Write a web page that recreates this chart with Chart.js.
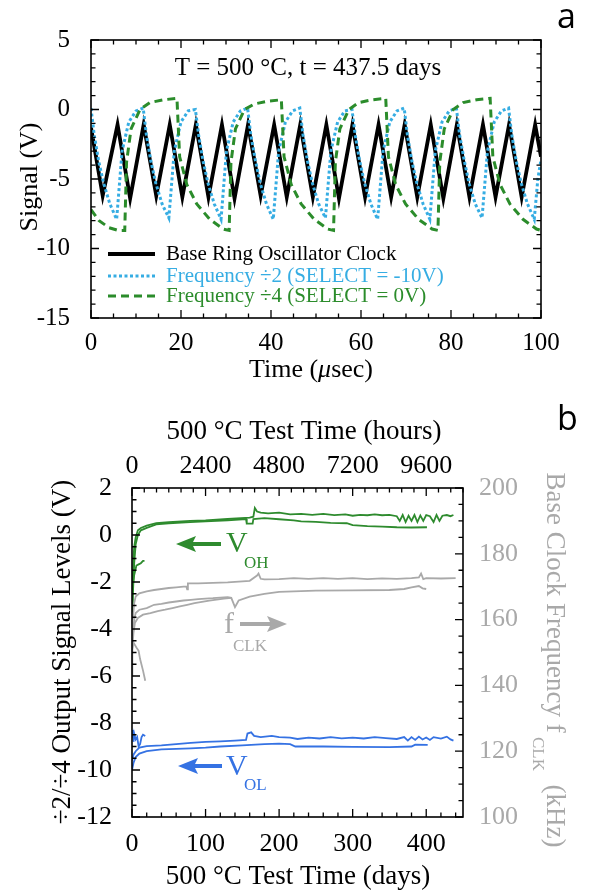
<!DOCTYPE html>
<html>
<head>
<meta charset="utf-8">
<script src="https://cdn.jsdelivr.net/npm/chart.js@4.4.1/dist/chart.umd.min.js"></script>
<style>
  html, body { margin: 0; padding: 0; background: #fff; }
  #boxA { position: absolute; left: 0; top: 0; }
  #boxB { position: absolute; left: 0; top: 390px; }
</style>
</head>
<body>
<canvas id="boxA" width="590" height="390"></canvas>
<canvas id="boxB" width="590" height="503"></canvas>
<script>
// ---------- panel a: waveforms (time in usec, signal in V) ----------
const timeTicks = [0, 20, 40, 60, 80, 100]
const signalTicks = [-15, -10, -5, 0, 5]

const clockT = [0, 2.6, 5.9, 8.7, 11.7, 14.5, 17.5, 20.3, 23.3, 26.1, 29.1, 31.9, 34.9, 37.7, 40.7, 43.5,
  46.5, 49.3, 52.3, 55.1, 58.1, 60.9, 63.9, 66.7, 69.7, 72.5, 75.5, 78.3, 81.3, 84.1, 87.1, 89.9,
  92.9, 95.7, 98.7, 100]
const clockV = [-1.3, -6.2, -1.1, -6.4, -1.1, -6.2, -1.1, -6.3, -1.1, -6.3, -1.1, -6.4, -1.1, -6.2, -1.1, -6.3,
  -1.1, -6.3, -1.1, -6.4, -1.1, -6.3, -1.1, -6.3, -1.1, -6.3, -1.1, -6.4, -1.1, -6.3, -1.1, -6.3,
  -1.1, -6.3, -1.1, -3.4]

const div2T = [0, 0.7, 1.7, 2.8, 4.2, 5.7, 6.9, 8.4, 10.0,
  11.6, 12.3, 13.3, 14.4, 15.8, 17.3, 18.5, 20.0, 21.6,
  23.2, 23.9, 24.9, 26.0, 27.4, 28.9, 30.1, 31.6, 33.2,
  34.8, 35.5, 36.5, 37.6, 39.0, 40.5, 41.7, 43.2, 44.8,
  46.4, 47.1, 48.1, 49.2, 50.6, 52.1, 53.3, 54.8, 56.4,
  58.0, 58.7, 59.7, 60.8, 62.2, 63.7, 64.9, 66.4, 68.0,
  69.6, 70.3, 71.3, 72.4, 73.8, 75.3, 76.5, 78.0, 79.6,
  81.2, 81.9, 82.9, 84.0, 85.4, 86.9, 88.1, 89.6, 91.2,
  92.8, 93.5, 94.5, 95.6, 97.0, 98.5, 99.3, 100]
const div2V = [0.1, -1.8, -3.7, -5.3, -6.8, -7.9, -3.0, -0.9, -0.1,
  0.1, -1.8, -3.7, -5.3, -6.8, -7.8, -3.0, -0.9, -0.1,
  0.0, -1.8, -3.7, -5.3, -6.8, -7.9, -3.0, -0.9, -0.1,
  0.1, -1.8, -3.6, -5.3, -6.8, -7.9, -3.0, -0.9, -0.1,
  0.1, -1.8, -3.7, -5.3, -6.8, -7.8, -3.0, -0.9, -0.1,
  0.0, -1.8, -3.7, -5.3, -6.8, -7.9, -3.0, -0.9, -0.1,
  0.1, -1.8, -3.7, -5.3, -6.8, -7.9, -3.0, -0.9, -0.1,
  0.1, -1.8, -3.6, -5.3, -6.8, -7.8, -3.0, -0.9, -0.1,
  0.1, -1.8, -3.7, -5.3, -6.8, -7.9, -5.0, -3.6]

const div4T = [0, 1.8, 4.0, 6.0, 7.5,
  7.9, 8.9, 10.9, 13.1, 16.1, 19.1, 19.7, 21.3, 23.5, 26.4, 29.4, 30.7,
  31.1, 32.1, 34.1, 36.3, 39.3, 42.3, 42.9, 44.5, 46.7, 49.6, 52.6, 53.9,
  54.3, 55.3, 57.3, 59.5, 62.5, 65.5, 66.1, 67.7, 69.9, 72.8, 75.8, 77.1,
  77.5, 78.5, 80.5, 82.7, 85.7, 88.7, 89.3, 90.9, 93.1, 96.0, 99.0, 100]
const div4V = [-7.2, -8.0, -8.5, -8.7, -8.7,
  -3.8, -1.4, 0.0, 0.5, 0.7, 0.8, -3.4, -5.4, -6.8, -7.9, -8.6, -8.7,
  -3.8, -1.4, 0.0, 0.4, 0.6, 0.7, -3.4, -5.4, -6.8, -7.9, -8.6, -8.7,
  -3.8, -1.4, 0.0, 0.5, 0.7, 0.8, -3.4, -5.4, -6.8, -7.9, -8.6, -8.7,
  -3.8, -1.4, 0.0, 0.5, 0.7, 0.8, -3.4, -5.4, -6.8, -7.9, -8.6, -8.7]

// ---------- panel b: long-term levels (days, V / kHz) ----------
const dayTicks = [0, 100, 200, 300, 400]
const hourTicks = [0, 2400, 4800, 7200, 9600]
const levelTicks = [-12, -10, -8, -6, -4, -2, 0, 2]
const freqTicks = [100, 120, 140, 160, 180, 200]

const ohUpperDay = [0, 1, 2, 3, 5, 8, 12, 20, 33, 50, 79, 100, 130, 160, 165, 167, 170, 175, 185, 200, 215, 230,
  245, 260, 275, 290, 300, 310, 320, 330, 340, 350, 360, 364, 368, 372, 376, 380, 384, 388, 392, 396, 400,
  405, 410, 414, 418, 422, 428, 433, 437]
const ohUpperV = [-3.0, -2.0, -1.0, -0.5, -0.1, 0.2, 0.3, 0.4, 0.5, 0.55, 0.6, 0.62, 0.68, 0.74, 0.78, 1.15, 1.0, 0.95,
  0.92, 0.95, 0.88, 0.9, 0.86, 0.9, 0.85, 0.88, 0.82, 0.86, 0.84, 0.88, 0.84, 0.86, 0.8, 0.6, 0.85, 0.55, 0.82,
  0.6, 0.85, 0.55, 0.83, 0.6, 0.85, 0.8, 0.55, 0.85, 0.6, 0.82, 0.85, 0.8, 0.85]
const ohLowerDay = [0, 1.5, 3, 5, 8, 12, 20, 33, 50, 79, 100, 130, 155, 156, 164, 165, 180, 200, 220, 230, 250,
  270, 292, 300, 320, 340, 360, 380, 401]
const ohLowerV = [-3.3, -2.3, -1.2, -0.4, 0.0, 0.2, 0.3, 0.45, 0.5, 0.55, 0.58, 0.62, 0.68, 0.48, 0.48, 0.68, 0.72,
  0.67, 0.62, 0.58, 0.56, 0.52, 0.5, 0.42, 0.38, 0.36, 0.33, 0.32, 0.33]
const ohShortDay = [1, 3, 6, 9, 12, 15, 17]
const ohShortV = [-2.2, -1.7, -1.3, -1.25, -1.2, -1.1, -1.1]

const olUpperDay = [0, 2, 5, 10, 20, 40, 60, 80, 100, 120, 140, 155, 157, 162, 166, 175, 190, 200, 215, 225, 240,
  255, 270, 285, 300, 315, 330, 345, 360, 370, 375, 380, 385, 390, 395, 400, 405, 410, 420, 428, 433, 437]
const olUpperV = [-9.6, -9.35, -9.2, -9.05, -8.98, -8.95, -8.9, -8.85, -8.8, -8.78, -8.75, -8.72, -8.45, -8.4, -8.55,
  -8.6, -8.55, -8.6, -8.62, -8.68, -8.62, -8.66, -8.6, -8.65, -8.62, -8.66, -8.6, -8.64, -8.68, -8.6, -8.75,
  -8.6, -8.72, -8.58, -8.7, -8.62, -8.72, -8.6, -8.66, -8.58, -8.7, -8.75]
const olLowerDay = [0, 2, 5, 10, 20, 40, 60, 80, 100, 120, 150, 180, 200, 215, 222, 260, 300, 350, 380, 385, 402]
const olLowerV = [-10.0, -9.7, -9.45, -9.3, -9.2, -9.12, -9.1, -9.08, -9.05, -9.0, -8.95, -8.9, -8.88, -8.9, -9.0,
  -9.0, -9.02, -9.03, -9.0, -8.92, -8.93]
const olShortDay = [0, 1, 2, 3, 5, 7, 9, 11, 13, 15, 18]
const olShortV = [-8.6, -8.3, -8.8, -8.45, -8.7, -8.6, -9.0, -8.9, -8.6, -8.5, -8.55]

const clkUpperDay = [1, 3, 5, 10, 20, 30, 40, 50, 60, 70, 74, 75, 76, 90, 100, 130, 160, 170, 172, 175, 180,
  200, 220, 240, 260, 280, 300, 320, 340, 360, 380, 390, 393, 396, 400, 420, 440]
const clkUpperKHz = [160, 165, 167, 168, 168.6, 169, 169.3, 169.6, 169.8, 170, 170, 169.2, 171, 171, 171.1,
  171.3, 171.8, 173.4, 174, 172.4, 172.2, 172.3, 172.6, 172.4, 172.6, 172.4, 172.6, 172.3, 172.5, 172.4,
  172.6, 172.8, 174, 172.3, 172.6, 172.5, 172.6]
const clkMidDay = [1, 3, 5, 10, 20, 30, 40, 50, 60, 70, 80, 90, 100, 110, 120, 130, 135, 140, 145, 160, 180, 200,
  250, 300, 350, 370, 380, 390, 395, 400]
const clkMidKHz = [155, 160, 162, 163, 163.5, 164.5, 164.8, 165.2, 165.5, 165.8, 166, 166.2, 166.4, 166.5, 166.7,
  166.8, 166.6, 163.8, 165.8, 167, 167.8, 168.4, 168.8, 168.9, 169, 169.3, 169.8, 170.2, 169.5, 169.3]
const clkLowDay = [0, 2, 4, 8, 15, 25, 35, 45, 55, 65, 75, 85, 95, 105, 115, 125, 135]
const clkLowKHz = [150, 156, 159, 160.5, 161.5, 162, 162.6, 163, 163.5, 164, 164.5, 165, 165.4, 165.8, 166.1, 166.4,
  166.6]
const clkDropDay = [0, 0.5, 2, 6, 9, 11, 15, 18]
const clkDropKHz = [143, 151, 153, 151.5, 150.5, 148, 144.5, 141.4]

// ---------- helpers ----------
const SERIF = '"Liberation Serif", "Times New Roman", serif'
const pts = (xs, ys) => xs.map((x, i) => ({ x, y: ys[i] }))
const fixedTicks = (list) => (s) => { s.ticks = list.map((v) => ({ value: v })) }

function marks(ctx, scale, a, side, from, to, step, major) {
  ctx.beginPath()
  const n = Math.round((to - from) / step)
  for (let i = 0; i <= n; i++) {
    const v = from + i * step
    const p = scale.getPixelForValue(v)
    const r = v / major
    const len = Math.abs(r - Math.round(r)) < 1e-6 ? 8 : 4.5
    if (side === "bottom") { ctx.moveTo(p, a.bottom); ctx.lineTo(p, a.bottom - len) }
    if (side === "top") { ctx.moveTo(p, a.top); ctx.lineTo(p, a.top + len) }
    if (side === "left") { ctx.moveTo(a.left, p); ctx.lineTo(a.left + len, p) }
    if (side === "right") { ctx.moveTo(a.right, p); ctx.lineTo(a.right - len, p) }
  }
  ctx.stroke()
}

function text(ctx, parts, x, y, align, rot) {
  ctx.save()
  ctx.translate(x, y)
  ctx.rotate(rot || 0)
  ctx.textBaseline = "middle"
  ctx.textAlign = "left"
  let w = 0
  parts.forEach((p) => { ctx.font = p.font; w += ctx.measureText(p.text).width })
  let cx = align === "center" ? -w / 2 : 0
  parts.forEach((p) => {
    ctx.font = p.font
    ctx.fillStyle = p.color
    ctx.fillText(p.text, cx, p.dy || 0)
    cx += ctx.measureText(p.text).width
  })
  ctx.restore()
}

function arrow(ctx, tail, head, y, color) {
  const dir = head > tail ? 1 : -1
  ctx.save()
  ctx.fillStyle = color
  ctx.strokeStyle = color
  ctx.lineWidth = 4
  ctx.beginPath()
  ctx.moveTo(tail, y)
  ctx.lineTo(head - dir * 14, y)
  ctx.stroke()
  ctx.beginPath()
  ctx.moveTo(head, y)
  ctx.lineTo(head - dir * 20, y - 8)
  ctx.lineTo(head - dir * 16, y)
  ctx.lineTo(head - dir * 20, y + 8)
  ctx.closePath()
  ctx.fill()
  ctx.restore()
}

const tickFont = { family: SERIF, size: 25, lineHeight: 1.2 }

// ---------- chart a ----------
const decorA = {
  id: "decorA",
  afterDraw(chart) {
    const { ctx, chartArea: a, scales } = chart
    ctx.save()
    ctx.strokeStyle = "#000"
    ctx.lineWidth = 1.6
    ctx.strokeRect(a.left, a.top, a.right - a.left, a.bottom - a.top)
    ctx.lineWidth = 1.3
    marks(ctx, scales.x, a, "bottom", 0, 100, 5, 20)
    marks(ctx, scales.x, a, "top", 0, 100, 5, 20)
    marks(ctx, scales.y, a, "left", -15, 5, 1, 5)
    marks(ctx, scales.y, a, "right", -15, 5, 1, 5)

    // legend inside the plot
    const rows = [
      { label: "Base Ring Oscillator Clock", color: "#000", dash: [], w: 4, y: 254 },
      { label: "Frequency \u00f72 (SELECT = -10V)", color: "#36ade3", dash: [3, 2.5], w: 3, y: 276 },
      { label: "Frequency \u00f74 (SELECT = 0V)", color: "#2b8c2b", dash: [8, 5], w: 3, y: 296 },
    ]
    rows.forEach((r) => {
      ctx.beginPath()
      ctx.strokeStyle = r.color
      ctx.lineWidth = r.w
      ctx.setLineDash(r.dash)
      ctx.moveTo(108, r.y)
      ctx.lineTo(155, r.y)
      ctx.stroke()
      ctx.setLineDash([])
      text(ctx, [{ text: r.label, font: "21px " + SERIF, color: r.color }], 166, r.y, "left")
    })
    ctx.restore()

    text(ctx, [{ text: "T = 500 \u00b0C, t = 437.5 days", font: "25px " + SERIF, color: "#000" }], 308, 68, "center")
    text(ctx, [{ text: "Signal (V)", font: "26px " + SERIF, color: "#000" }], 30, 177, "center", -Math.PI / 2)
    text(ctx, [
      { text: "Time (", font: "26px " + SERIF, color: "#000" },
      { text: "\u03bc", font: "italic 26px " + SERIF, color: "#000" },
      { text: "sec)", font: "26px " + SERIF, color: "#000" },
    ], 311, 370, "center")
    text(ctx, [{ text: "a", font: "34px 'Open Sans', sans-serif", color: "#000" }], 557, 18, "left")
  },
}

new Chart(document.getElementById("boxA"), {
  type: "line",
  data: {
    datasets: [
      { data: pts(div4T, div4V), borderColor: "#2b8c2b", borderWidth: 3, borderDash: [8, 5], pointRadius: 0 },
      { data: pts(div2T, div2V), borderColor: "#36ade3", borderWidth: 3, borderDash: [3, 2.5], pointRadius: 0 },
      { data: pts(clockT, clockV), borderColor: "#000", borderWidth: 3.8, pointRadius: 0 },
    ],
  },
  options: {
    responsive: false,
    animation: false,
    devicePixelRatio: 1,
    layout: { padding: { top: 40, right: 49, left: 0, bottom: 0 } },
    plugins: { legend: { display: false }, tooltip: { enabled: false } },
    scales: {
      x: {
        type: "linear", min: 0, max: 100,
        afterFit: (s) => { s.height = 72 },
        afterBuildTicks: fixedTicks(timeTicks),
        grid: { display: false }, border: { display: false },
        ticks: { padding: 2, color: "#000", font: tickFont, maxRotation: 0, autoSkip: false, callback: (v) => String(v) },
      },
      y: {
        type: "linear", min: -15, max: 5,
        afterFit: (s) => { s.width = 91 },
        afterBuildTicks: fixedTicks(signalTicks),
        grid: { display: false }, border: { display: false },
        ticks: { padding: 13, color: "#000", font: tickFont, autoSkip: false, callback: (v) => String(v) },
      },
    },
  },
  plugins: [decorA],
})

// ---------- chart b ----------
const GREEN = "#2e8b2e"
const BLUE = "#3572e3"
const GRAY = "#a9a9a9"

const decorB = {
  id: "decorB",
  afterDraw(chart) {
    const { ctx, chartArea: a, scales } = chart
    ctx.save()
    ctx.strokeStyle = "#000"
    ctx.lineWidth = 1.6
    ctx.strokeRect(a.left, a.top, a.right - a.left, a.bottom - a.top)
    ctx.lineWidth = 1.3
    marks(ctx, scales.x, a, "bottom", 0, 440, 20, 100)
    marks(ctx, scales.xh, a, "top", 0, 10800, 400, 2400)
    marks(ctx, scales.y, a, "left", -12, 2, 0.5, 2)
    marks(ctx, scales.y2, a, "right", 100, 200, 5, 20)
    ctx.restore()

    const t27 = "27px " + SERIF
    text(ctx, [{ text: "500 \u00b0C Test Time (hours)", font: t27, color: "#000" }], 304, 42, "center")
    text(ctx, [{ text: "500 \u00b0C Test Time (days)", font: t27, color: "#000" }], 298, 487, "center")
    text(ctx, [{ text: "\u00f72/\u00f74 Output Signal Levels (V)", font: t27, color: "#000" }], 63, 262, "center", -Math.PI / 2)
    text(ctx, [
      { text: "Base Clock Frequency f", font: t27, color: GRAY },
      { text: " CLK", font: "17px " + SERIF, color: GRAY, dy: 17 },
      { text: "  (kHz)", font: t27, color: GRAY },
    ], 554, 270, "center", Math.PI / 2)
    text(ctx, [{ text: "b", font: "34px 'Open Sans', sans-serif", color: "#000" }], 557, 30, "left")

    // V_OH, f_CLK and V_OL markers
    arrow(ctx, 221, 176, 154, GREEN)
    text(ctx, [{ text: "V", font: "30px " + SERIF, color: GREEN }], 226, 154, "left")
    text(ctx, [{ text: "OH", font: "17px " + SERIF, color: GREEN }], 244, 174, "left")
    arrow(ctx, 240, 287, 234, GRAY)
    text(ctx, [{ text: "f", font: "30px " + SERIF, color: GRAY }], 224, 235, "left")
    text(ctx, [{ text: "CLK", font: "17px " + SERIF, color: GRAY }], 233, 257, "left")
    arrow(ctx, 222, 178, 376, BLUE)
    text(ctx, [{ text: "V", font: "30px " + SERIF, color: BLUE }], 226, 377, "left")
    text(ctx, [{ text: "OL", font: "17px " + SERIF, color: BLUE }], 244, 396, "left")
  },
}

const lineSet = (xs, ys, color, axis) => ({
  data: pts(xs, ys), borderColor: color, borderWidth: 1.8, pointRadius: 0, yAxisID: axis, xAxisID: "x",
})

new Chart(document.getElementById("boxB"), {
  type: "line",
  data: {
    datasets: [
      lineSet(clkUpperDay, clkUpperKHz, GRAY, "y2"),
      lineSet(clkMidDay, clkMidKHz, GRAY, "y2"),
      lineSet(clkLowDay, clkLowKHz, GRAY, "y2"),
      lineSet(clkDropDay, clkDropKHz, GRAY, "y2"),
      lineSet(ohUpperDay, ohUpperV, GREEN, "y"),
      lineSet(ohLowerDay, ohLowerV, GREEN, "y"),
      lineSet(ohShortDay, ohShortV, GREEN, "y"),
      lineSet(olUpperDay, olUpperV, BLUE, "y"),
      lineSet(olLowerDay, olLowerV, BLUE, "y"),
      lineSet(olShortDay, olShortV, BLUE, "y"),
    ],
  },
  options: {
    responsive: false,
    animation: false,
    devicePixelRatio: 1,
    layout: { padding: 0 },
    plugins: { legend: { display: false }, tooltip: { enabled: false } },
    scales: {
      x: {
        type: "linear", position: "bottom", min: 0, max: 450,
        afterFit: (s) => { s.height = 76 },
        afterBuildTicks: fixedTicks(dayTicks),
        grid: { display: false }, border: { display: false },
        ticks: { padding: 4, color: "#000", font: { ...tickFont, size: 26 }, maxRotation: 0, autoSkip: false, callback: (v) => String(v) },
      },
      xh: {
        type: "linear", position: "top", min: 0, max: 10800,
        afterFit: (s) => { s.height = 98 },
        afterBuildTicks: fixedTicks(hourTicks),
        grid: { display: false }, border: { display: false },
        ticks: { padding: 1, color: "#000", font: { ...tickFont, size: 26, lineHeight: 1 }, maxRotation: 0, autoSkip: false, callback: (v) => String(v) },
      },
      y: {
        type: "linear", position: "left", min: -12, max: 2,
        afterFit: (s) => { s.width = 132 },
        afterBuildTicks: fixedTicks(levelTicks),
        grid: { display: false }, border: { display: false },
        ticks: { padding: 12, color: "#000", font: { ...tickFont, size: 26 }, autoSkip: false, callback: (v) => String(v) },
      },
      y2: {
        type: "linear", position: "right", min: 100, max: 200,
        afterFit: (s) => { s.width = 127 },
        afterBuildTicks: fixedTicks(freqTicks),
        grid: { display: false }, border: { display: false },
        ticks: { padding: 8, color: GRAY, font: { ...tickFont, size: 26 }, autoSkip: false, callback: (v) => String(v) },
      },
    },
  },
  plugins: [decorB],
})
</script>
</body>
</html>
